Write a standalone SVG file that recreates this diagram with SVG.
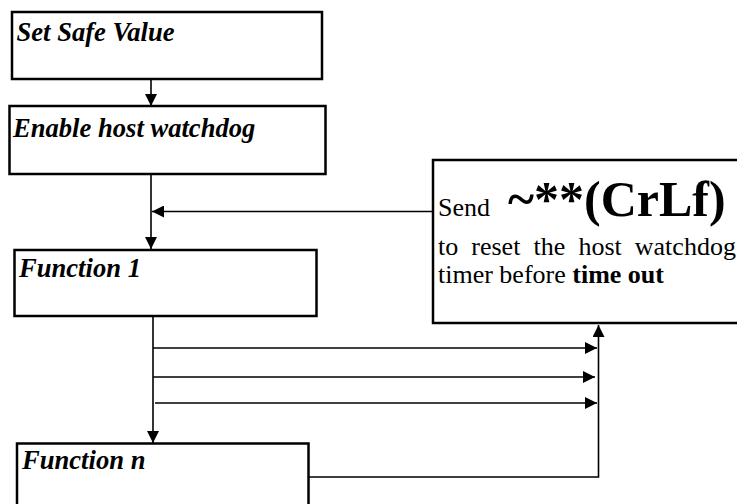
<svg xmlns="http://www.w3.org/2000/svg" width="737" height="504" viewBox="0 0 737 504">
<defs>
<style>
.box{fill:#fff;stroke:#000;stroke-width:2.5}
.ln{fill:none;stroke:#000;stroke-width:1.6}
.t{font-family:"Liberation Serif","Times New Roman",serif;font-weight:bold;font-style:italic;font-size:26.6px;fill:#000}
.r{font-family:"Liberation Serif","Times New Roman",serif;font-size:26px;fill:#000}
</style>
<marker id="ah" viewBox="0 0 12 12" refX="12" refY="6" markerWidth="12" markerHeight="12" markerUnits="userSpaceOnUse" orient="auto">
<path d="M0,0 L12,6 L0,12 Z" fill="#000"/>
</marker>
</defs>
<rect width="737" height="504" fill="#fff"/>
<g id="connectors">
<line class="ln" x1="151" y1="79" x2="151" y2="106" marker-end="url(#ah)"/>
<line class="ln" x1="151" y1="174" x2="151" y2="249" marker-end="url(#ah)"/>
<line class="ln" x1="432" y1="211.5" x2="152" y2="211.5" marker-end="url(#ah)"/>
<line class="ln" x1="153" y1="316" x2="153" y2="443" marker-end="url(#ah)"/>
<line class="ln" x1="153" y1="348" x2="597" y2="348" marker-end="url(#ah)"/>
<line class="ln" x1="153" y1="377" x2="595" y2="377" marker-end="url(#ah)"/>
<line class="ln" x1="155" y1="403" x2="597" y2="403" marker-end="url(#ah)"/>
<polyline class="ln" points="309,477 598.5,477 598.5,325" marker-end="url(#ah)"/>
</g>
<g id="set-safe-value">
<rect class="box" x="12" y="12" width="310" height="67"/>
<text class="t" x="16.5" y="41">Set Safe Value</text>
</g>
<g id="enable-host-watchdog">
<rect class="box" x="9.5" y="106" width="316" height="68"/>
<text class="t" x="13" y="137">Enable host watchdog</text>
</g>
<g id="function-1">
<rect class="box" x="14.5" y="250" width="302" height="66"/>
<text class="t" x="19" y="277">Function 1</text>
</g>
<g id="function-n">
<rect class="box" x="17" y="443.5" width="291.5" height="70"/>
<text class="t" x="22" y="469">Function n</text>
</g>
<g id="send-box">
<rect class="box" x="433" y="160" width="310" height="163"/>
<text class="r" x="438" y="216">Send</text>
<text x="508" y="216" style="font-family:'Liberation Serif','Times New Roman',serif;font-weight:bold;font-size:50px">~**(CrLf)</text>
<text class="r" y="255"><tspan x="438">to</tspan><tspan x="471.3">reset</tspan><tspan x="533.5">the</tspan><tspan x="578.4">host</tspan><tspan x="634.8">watchdog</tspan></text>
<text class="r" x="438" y="283">timer before <tspan font-weight="bold">time out</tspan></text>
</g>
</svg>
